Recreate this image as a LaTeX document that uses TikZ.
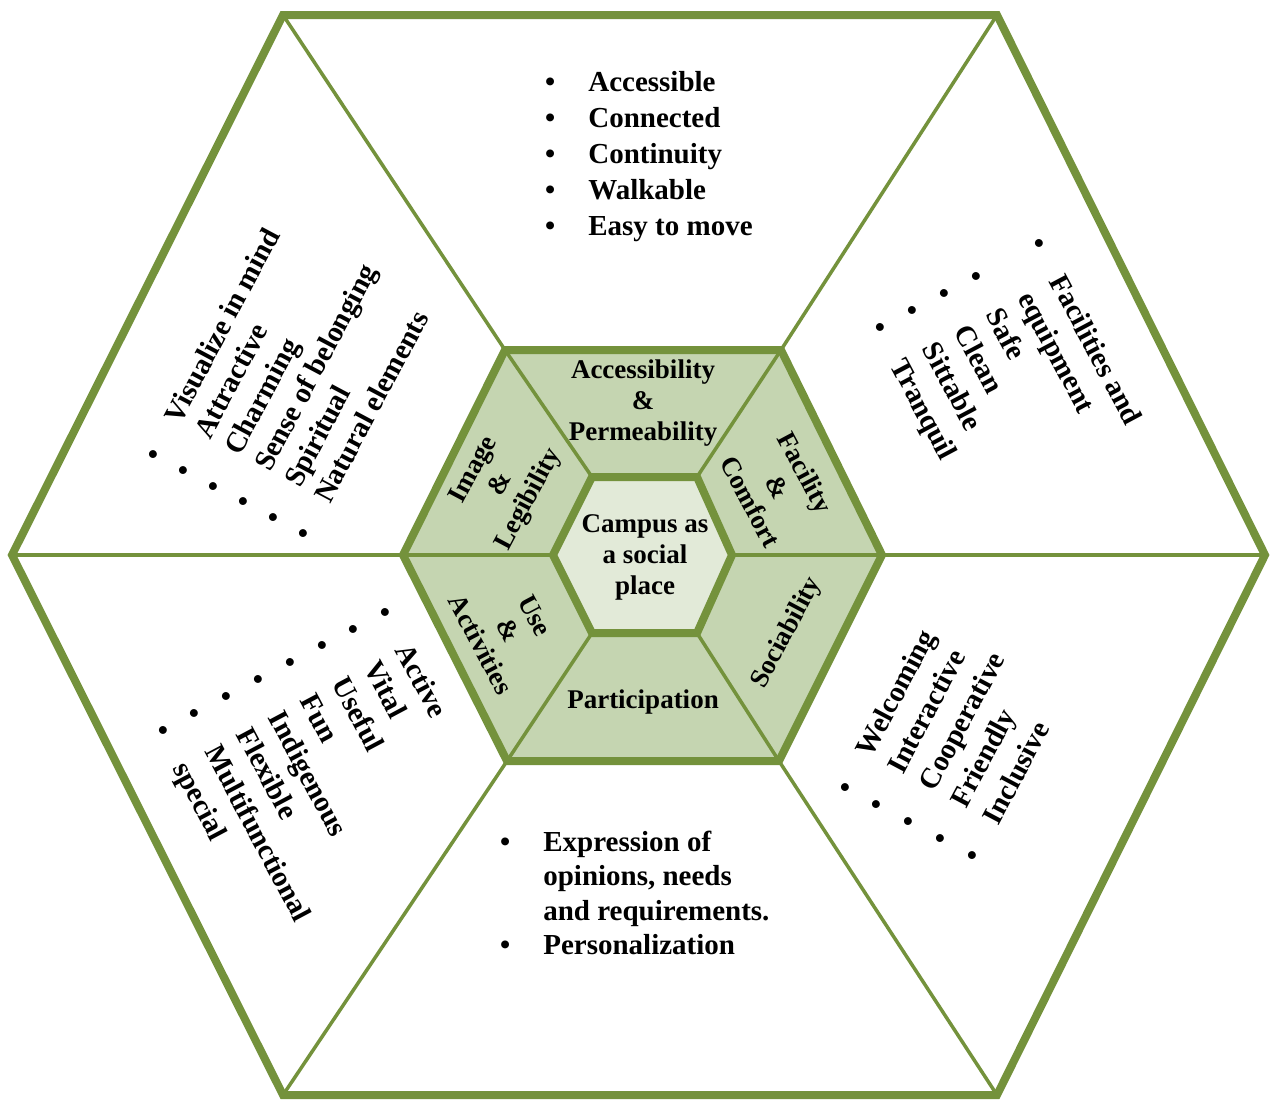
\documentclass[tikz,border=0pt]{standalone}
\usepackage{fontspec}
\setmainfont{Liberation Serif}
\usetikzlibrary{calc}

\definecolor{hexgreen}{RGB}{116,146,60}
\definecolor{ringfill}{RGB}{197,213,177}
\definecolor{corefill}{RGB}{226,234,216}

\begin{document}
\begin{tikzpicture}[
  x=1pt, y=-1pt,
  border/.style={draw=hexgreen, line width=8pt, line join=miter},
  divider/.style={draw=hexgreen, line width=3.5pt},
  ringlabel/.style={font=\fontsize{27}{31}\selectfont\bfseries, align=center,
                    inner sep=0pt},
  biglist/.style={font=\fontsize{29}{36}\selectfont\bfseries, inner sep=0pt,
                  anchor=north west}
]
\useasboundingbox (0,0) rectangle (1272,1100);
\fill[white] (0,0) rectangle (1272,1100);

% Outer hexagon
\coordinate (o1) at (283,15);
\coordinate (o2) at (997,15);
\coordinate (o3) at (1265,555);
\coordinate (o4) at (997,1095);
\coordinate (o5) at (283,1095);
\coordinate (o6) at (12,555);

% Middle ring
\coordinate (m1) at (505,350);
\coordinate (m2) at (781,350);
\coordinate (m3) at (882,555);
\coordinate (m4) at (779,761);
\coordinate (m5) at (507,761);
\coordinate (m6) at (403,555);

% Core
\coordinate (c1) at (592,477);
\coordinate (c2) at (697,477);
\coordinate (c3) at (732,555);
\coordinate (c4) at (697,633);
\coordinate (c5) at (592,633);
\coordinate (c6) at (553,555);

\fill[ringfill] (m1) -- (m2) -- (m3) -- (m4) -- (m5) -- (m6) -- cycle;
\fill[corefill] (c1) -- (c2) -- (c3) -- (c4) -- (c5) -- (c6) -- cycle;

\foreach \k in {1,...,6} {
  \draw[divider] (o\k) -- (m\k);
  \draw[divider] (m\k) -- (c\k);
}

\draw[border] (o1) -- (o2) -- (o3) -- (o4) -- (o5) -- (o6) -- cycle;
\draw[border] (m1) -- (m2) -- (m3) -- (m4) -- (m5) -- (m6) -- cycle;
\draw[border] (c1) -- (c2) -- (c3) -- (c4) -- (c5) -- (c6) -- cycle;

% Ring labels
\node[ringlabel] (campus) at (645,557) {Campus as\\a social\\place};
\node[ringlabel] (access) at (643,403) {Accessibility\\\&\\Permeability};
\node[ringlabel, rotate=-62] (facility) at (778,487) {Facility\\\&\\Comfort};
\node[ringlabel, rotate=62] (sociab) at (787,633) {Sociability};
\node[ringlabel] (particip) at (643,702) {Participation};
\node[ringlabel, rotate=-62] (useact) at (508,630) {Use\\\&\\Activities};
\node[ringlabel, rotate=62] (image) at (502,485) {Image\\\&\\Legibility};

% Outer lists
\node[biglist] (movelist) at (545,66) {\begin{tabular}{@{}l@{\hspace{33pt}}l@{}}
  \textbullet & Accessible\\
  \textbullet & Connected\\
  \textbullet & Continuity\\
  \textbullet & Walkable\\
  \textbullet & Easy to move
\end{tabular}};

\node[biglist, rotate=-62] (comfortlist) at (1051,231) {\begin{tabular}{@{}l@{\hspace{33pt}}l@{}}
  \textbullet & Facilities and\\
              & equipment\\
  \textbullet & Safe\\
  \textbullet & Clean\\
  \textbullet & Sittable\\
  \textbullet & Tranquil
\end{tabular}};

\node[biglist, rotate=62] (sociallist) at (828.5,785) {\begin{tabular}{@{}l@{\hspace{33pt}}l@{}}
  \textbullet & Welcoming\\
  \textbullet & Interactive\\
  \textbullet & Cooperative\\
  \textbullet & Friendly\\
  \textbullet & Inclusive
\end{tabular}};

\node[biglist, font=\fontsize{29}{34.5}\selectfont\bfseries] (partlist) at (500,827)
  {\begin{tabular}{@{}l@{\hspace{33pt}}l@{}}
  \textbullet & Expression of\\
              & opinions, needs\\
              & and requirements.\\
  \textbullet & Personalization
\end{tabular}};

\node[biglist, rotate=-62] (uselist) at (397,600) {\begin{tabular}{@{}l@{\hspace{33pt}}l@{}}
  \textbullet & Active\\
  \textbullet & Vital\\
  \textbullet & Useful\\
  \textbullet & Fun\\
  \textbullet & Indigenous\\
  \textbullet & Flexible\\
  \textbullet & Multifunctional\\
  \textbullet & special
\end{tabular}};

\node[biglist, rotate=62, font=\fontsize{29}{34}\selectfont\bfseries] (imagelist)
  at (138.5,452) {\begin{tabular}{@{}l@{\hspace{33pt}}l@{}}
  \textbullet & Visualize in mind\\
  \textbullet & Attractive\\
  \textbullet & Charming\\
  \textbullet & Sense of belonging\\
  \textbullet & Spiritual\\
  \textbullet & Natural elements
\end{tabular}};

\end{tikzpicture}
\end{document}
